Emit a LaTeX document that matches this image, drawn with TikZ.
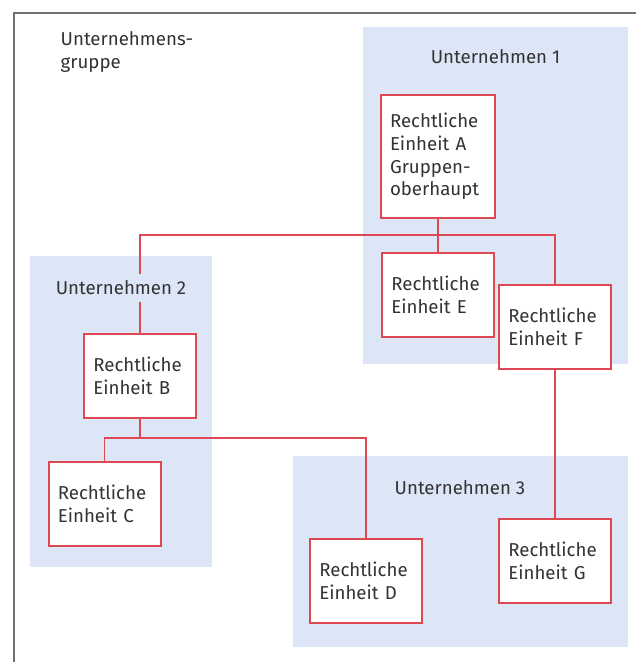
\documentclass[tikz,border=0pt]{standalone}
\usepackage{fontspec}
\setmainfont{Fira Sans}
\usetikzlibrary{positioning,calc}

\definecolor{unitred}{RGB}{222,72,82}
\definecolor{firmblue}{RGB}{220,230,246}
\definecolor{framegray}{RGB}{112,112,112}
\definecolor{textgray}{RGB}{51,51,51}

\begin{document}
\begin{tikzpicture}
  [x=0.75pt,y=-0.75pt,
   every node/.style={font=\fontsize{14}{17}\selectfont,text=textgray},
   unit/.style={rectangle,draw=unitred,line width=1.5pt,fill=white,
                text width=70pt,inner xsep=7pt,align=left,
                minimum width=84pt,minimum height=63pt},
   firm/.style={fill=firmblue},
   firmlabel/.style={fill=firmblue,inner xsep=3pt,inner ysep=5pt},
   link/.style={draw=unitred,line width=1.1pt}]
  \clip (0,0) rectangle (636,662);
  \draw[framegray,line width=1.5pt] (13.5,12.5) rectangle (680,700);
  \node (group) at (56,27) [anchor=north west,align=left] {Unternehmens-\\gruppe};

  % companies
  \fill[firm] (363,27) rectangle (628,364);
  \fill[firm] (30,256) rectangle (212,567);
  \fill[firm] (293,456) rectangle (628,647);

  % legal units
  \node (A) at (438,156.5) [unit,text width=72pt,minimum width=86pt,minimum height=92pt]
    {Rechtliche\\Einheit A\\Gruppen-\\oberhaupt};
  \node (E) at (438,295) [unit] {Rechtliche\\Einheit E};
  \node (F) at (555,326.5) [unit] {Rechtliche\\Einheit F};
  \node (B) at (140,375.5) [unit] {Rechtliche\\Einheit B};
  \node (C) at (104.5,504) [unit] {Rechtliche\\Einheit C};
  \node (D) at (366,581) [unit] {Rechtliche\\Einheit D};
  \node (G) at (555,560.5) [unit] {Rechtliche\\Einheit G};

  % ownership lines
  \coordinate (hubA) at (438,235);
  \coordinate (hubB) at (140,438);
  \draw[link] (A) -- (E);
  \draw[link] (B.north) |- (F.north |- hubA) -- (F.north);
  \draw[link] (F) -- (G);
  \draw[link] (B.south) -- (hubB);
  \draw[link] (C.north) |- (D.north |- hubB) -- (D.north);

  \node (u1) at (495.5,57) [firmlabel] {Unternehmen 1};
  \node (u2) at (121,288) [firmlabel] {Unternehmen 2};
  \node (u3) at (460,488) [firmlabel] {Unternehmen 3};
\end{tikzpicture}
\end{document}
